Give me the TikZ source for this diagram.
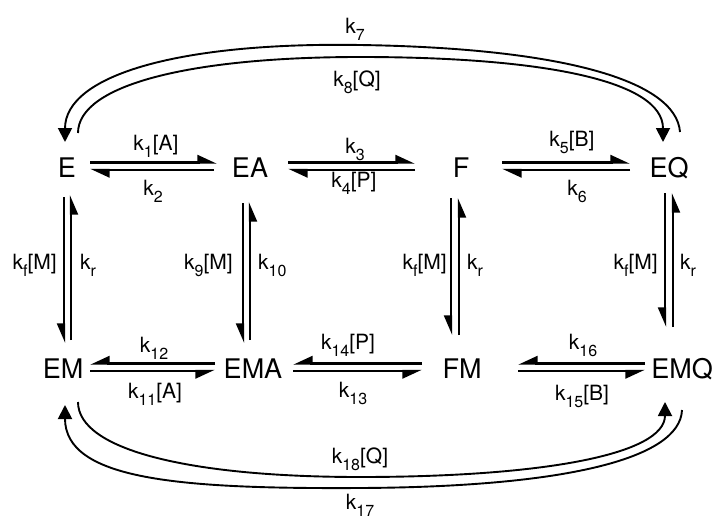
\documentclass[tikz,border=0pt]{standalone}
\usepackage{fontspec}
\setmainfont{TeX Gyre Heros}
\usetikzlibrary{arrows.meta}
\newcommand\kk[2]{k\raisebox{-7pt}{\fontsize{16}{16}\selectfont #1}#2}
\begin{document}
\begin{tikzpicture}[x=1pt,y=-1pt,
  st/.style={font=\fontsize{27}{27}\selectfont, inner sep=0pt, text height=19.4pt, text depth=0pt},
  lb/.style={font=\fontsize{21}{21}\selectfont, inner sep=0pt},
  hp/.style={line width=2.4pt, -{Triangle[harpoon,length=17pt,width=15pt]}},
  hps/.style={line width=2.4pt, -{Triangle[harpoon,swap,length=17pt,width=15pt]}},
  vp/.style={line width=2.2pt, -{Triangle[harpoon,swap,length=17pt,width=14pt]}},
  arch/.style={line width=1.9pt, -{Triangle[length=14pt,width=14pt]}},
]
\useasboundingbox (0,0) rectangle (714,519);
% states
\node[st] (E) at (67,168) {E};
\node[st] (EA) at (250,168) {EA};
\node[st] (F) at (461,168) {F};
\node[st] (EQ) at (669,168) {EQ};
\node[st] (EM) at (63,369) {EM};
\node[st] (EMA) at (253,369) {EMA};
\node[st] (FM) at (462,369) {FM};
\node[st] (EMQ) at (682,369) {EMQ};
% top row
\draw[hp] ([shift={(23,-5.5)}]E.center) -- ([shift={(-33,-5.5)}]EA.center);
\draw[hp] ([shift={(-36,2)}]EA.center) -- ([shift={(23,2)}]E.center);
\draw[hp] ([shift={(38,-5.5)}]EA.center) -- ([shift={(-46,-5.5)}]F.center);
\draw[hp] ([shift={(-46,2)}]F.center) -- ([shift={(38,2)}]EA.center);
\draw[hp] ([shift={(41,-5.5)}]F.center) -- ([shift={(-39,-5.5)}]EQ.center);
\draw[hp] ([shift={(-39,2)}]EQ.center) -- ([shift={(41,2)}]F.center);
% bottom row
\draw[hps] ([shift={(-38,-5.5)}]EMA.center) -- ([shift={(27,-5.5)}]EM.center);
\draw[hps] ([shift={(27,2)}]EM.center) -- ([shift={(-38,2)}]EMA.center);
\draw[hps] ([shift={(-40,-5.5)}]FM.center) -- ([shift={(40,-5.5)}]EMA.center);
\draw[hps] ([shift={(40,2)}]EMA.center) -- ([shift={(-40,2)}]FM.center);
\draw[hps] ([shift={(-37,-5.5)}]EMQ.center) -- ([shift={(56,-5.5)}]FM.center);
\draw[hps] ([shift={(56,2)}]FM.center) -- ([shift={(-37,2)}]EMQ.center);
% verticals
\draw[vp] ([shift={(-3,29)}]E.center) -- ([shift={(1,-26)}]EM.center);
\draw[vp] ([shift={(8,-29)}]EM.center) -- ([shift={(4,27)}]E.center);
\draw[vp] ([shift={(-7,35)}]EA.center) -- ([shift={(-10,-26)}]EMA.center);
\draw[vp] ([shift={(-3,-29)}]EMA.center) -- ([shift={(0,34)}]EA.center);
\draw[vp] ([shift={(-10,30)}]F.center) -- ([shift={(-11,-34)}]FM.center);
\draw[vp] ([shift={(-3,-34)}]FM.center) -- ([shift={(-2,30)}]F.center);
\draw[vp] ([shift={(-4,25)}]EQ.center) -- ([shift={(-17,-42)}]EMQ.center);
\draw[vp] ([shift={(-9,-42)}]EMQ.center) -- ([shift={(4,25)}]EQ.center);
% top arcs
\draw[arch] ([shift={(11,-36)}]EQ.center) .. controls (676,80) and (560,48) .. (360,45)
  .. controls (180,42) and (65,75) .. ([shift={(-2,-26)}]E.center);
\draw[arch] ([shift={(11,-35)}]E.center) .. controls (78,85) and (190,57) .. (360,57)
  .. controls (540,57) and (663,80) .. ([shift={(-6,-26)}]EQ.center);
% bottom arcs
\draw[arch] ([shift={(0,41)}]EMQ.center) .. controls (680,460) and (560,487) .. (360,488)
  .. controls (180,489) and (65,480) .. ([shift={(2,36)}]EM.center);
\draw[arch] ([shift={(15,33)}]EM.center) .. controls (78,450) and (190,477) .. (360,477)
  .. controls (540,477) and (665,455) .. ([shift={(-17,33)}]EMQ.center);
% labels
\node[lb] (l1) at (156,146) {\kk{1}{[A]}};
\node[lb] (l2) at (153,191) {\kk{2}{}};
\node[lb] (l3) at (355,149) {\kk{3}{}};
\node[lb] (l4) at (354,183) {\kk{4}{[P]}};
\node[lb] (l5) at (572,142) {\kk{5}{[B]}};
\node[lb] (l6) at (577,191) {\kk{6}{}};
\node[lb] (l7) at (355,29) {\kk{7}{}};
\node[lb] (l8) at (357,82) {\kk{8}{[Q]}};
\node[lb] (l12) at (154,348) {\kk{12}{}};
\node[lb] (l11) at (155,394) {\kk{11}{[A]}};
\node[lb] (l14) at (348,345) {\kk{14}{[P]}};
\node[lb] (l13) at (353,393) {\kk{13}{}};
\node[lb] (l16) at (583,345) {\kk{16}{}};
\node[lb] (l15) at (582,396) {\kk{15}{[B]}};
\node[lb] (l18) at (360,459) {\kk{18}{[Q]}};
\node[lb] (l17) at (360,505) {\kk{17}{}};
\node[lb,anchor=east] (v1a) at (57,265) {\kk{f}{[M]}};
\node[lb,anchor=west] (v1b) at (80,265) {\kk{r}{}};
\node[lb,anchor=east] (v2a) at (233,265) {\kk{9}{[M]}};
\node[lb,anchor=west] (v2b) at (258,265) {\kk{10}{}};
\node[lb,anchor=east] (v3a) at (447,265) {\kk{f}{[M]}};
\node[lb,anchor=west] (v3b) at (467,265) {\kk{r}{}};
\node[lb,anchor=east] (v4a) at (658,265) {\kk{f}{[M]}};
\node[lb,anchor=west] (v4b) at (680,265) {\kk{r}{}};
\end{tikzpicture}
\end{document}
